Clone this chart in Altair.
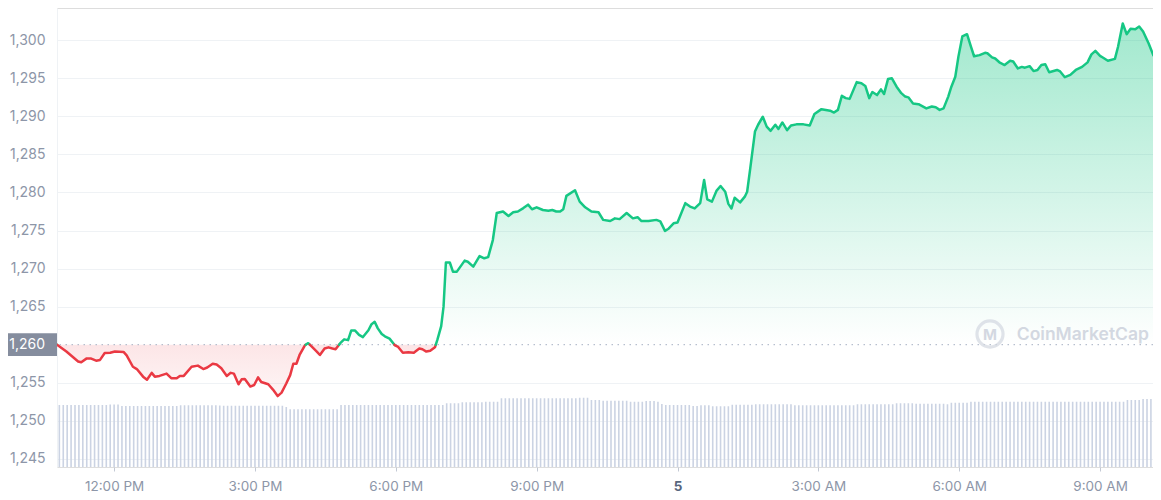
import altair as alt
import pandas as pd

BASE = 1260.0
YEAR, MONTH = 2023, 1
GREEN = "#16c784"
RED = "#ea3943"

# price series: "day HH:MM" and price
price_times = [
    "4 10:47", "4 10:59", "4 11:14", "4 11:18", "4 11:25", "4 11:30", "4 11:37", "4 11:42", "4 11:48", "4 11:55",
    "4 12:01", "4 12:12", "4 12:16", "4 12:24", "4 12:29", "4 12:37", "4 12:42", "4 12:48", "4 12:52", "4 12:58",
    "4 13:07", "4 13:13", "4 13:20", "4 13:24", "4 13:29", "4 13:39", "4 13:47", "4 13:54", "4 13:59", "4 14:06",
    "4 14:11", "4 14:17", "4 14:24", "4 14:29", "4 14:33", "4 14:39", "4 14:43", "4 14:47", "4 14:54", "4 14:59",
    "4 15:04", "4 15:08", "4 15:17", "4 15:23", "4 15:29", "4 15:34", "4 15:40", "4 15:45", "4 15:49", "4 15:53",
    "4 15:57", "4 16:04", "4 16:08", "4 16:12", "4 16:19", "4 16:23", "4 16:29", "4 16:34", "4 16:39", "4 16:43",
    "4 16:49", "4 16:54", "4 16:59", "4 17:03", "4 17:08", "4 17:13", "4 17:18", "4 17:25", "4 17:29", "4 17:33",
    "4 17:37", "4 17:42", "4 17:46", "4 17:52", "4 17:59", "4 18:03", "4 18:09", "4 18:16", "4 18:23", "4 18:30",
    "4 18:34", "4 18:39", "4 18:44", "4 18:50", "4 18:53", "4 18:58", "4 19:01", "4 19:04", "4 19:09", "4 19:13",
    "4 19:18", "4 19:28", "4 19:32", "4 19:39", "4 19:47", "4 19:53", "4 19:58", "4 20:04", "4 20:09", "4 20:17",
    "4 20:24", "4 20:30", "4 20:36", "4 20:43", "4 20:49", "4 20:54", "4 21:00", "4 21:08", "4 21:15", "4 21:20",
    "4 21:25", "4 21:30", "4 21:34", "4 21:38", "4 21:49", "4 21:55", "4 22:02", "4 22:10", "4 22:19", "4 22:25",
    "4 22:34", "4 22:40", "4 22:46", "4 22:55", "4 23:03", "4 23:09", "4 23:14", "4 23:23", "4 23:33", "4 23:38",
    "4 23:44", "4 23:48", "4 23:55", "5 00:00", "5 00:10", "5 00:16", "5 00:22", "5 00:29", "5 00:34", "5 00:38",
    "5 00:44", "5 00:50", "5 00:55", "5 01:01", "5 01:05", "5 01:09", "5 01:13", "5 01:20", "5 01:26", "5 01:29",
    "5 01:33", "5 01:39", "5 01:43", "5 01:49", "5 01:54", "5 01:59", "5 02:05", "5 02:09", "5 02:14", "5 02:20",
    "5 02:25", "5 02:32", "5 02:41", "5 02:49", "5 02:55", "5 03:04", "5 03:15", "5 03:20", "5 03:25", "5 03:30",
    "5 03:35", "5 03:40", "5 03:49", "5 03:55", "5 04:00", "5 04:05", "5 04:09", "5 04:15", "5 04:20", "5 04:24",
    "5 04:29", "5 04:34", "5 04:40", "5 04:46", "5 04:51", "5 04:55", "5 05:01", "5 05:08", "5 05:18", "5 05:25",
    "5 05:30", "5 05:35", "5 05:40", "5 05:46", "5 05:50", "5 05:55", "5 05:59", "5 06:04", "5 06:10", "5 06:15",
    "5 06:19", "5 06:26", "5 06:33", "5 06:36", "5 06:42", "5 06:46", "5 06:52", "5 06:58", "5 07:05", "5 07:09",
    "5 07:15", "5 07:20", "5 07:24", "5 07:30", "5 07:35", "5 07:40", "5 07:45", "5 07:50", "5 07:55", "5 08:05",
    "5 08:09", "5 08:15", "5 08:22", "5 08:29", "5 08:37", "5 08:44", "5 08:49", "5 08:54", "5 09:00", "5 09:04",
    "5 09:10", "5 09:19", "5 09:23", "5 09:29", "5 09:34", "5 09:39", "5 09:45", "5 09:50", "5 09:55", "5 10:02",
    "5 10:08", "5 10:12", "5 10:17",
]
prices = [
    1260.0, 1259.1, 1257.8, 1257.7, 1258.2, 1258.2, 1257.9, 1258.0, 1258.9, 1258.95,
    1259.1, 1259.05, 1258.6, 1257.1, 1256.8, 1255.8, 1255.4, 1256.3, 1255.8, 1255.9,
    1256.2, 1255.6, 1255.6, 1255.9, 1255.9, 1257.1, 1257.25, 1256.8, 1257.0, 1257.5,
    1257.4, 1256.9, 1255.9, 1256.3, 1256.2, 1254.8, 1255.45, 1255.5, 1254.5, 1254.7,
    1255.7, 1255.1, 1254.8, 1254.1, 1253.25, 1253.7, 1254.9, 1256.0, 1257.5, 1257.5,
    1258.65, 1259.95, 1260.2, 1259.8, 1259.1, 1258.65, 1259.5, 1259.65, 1259.5, 1259.4,
    1260.2, 1260.7, 1260.6, 1261.85, 1261.85, 1261.3, 1261.0, 1261.9, 1262.7, 1263.0,
    1262.15, 1261.4, 1261.1, 1260.8, 1259.9, 1259.7, 1258.95, 1259.0, 1258.95, 1259.5,
    1259.4, 1259.1, 1259.2, 1259.65, 1260.6, 1262.45, 1265.0, 1270.8, 1270.8, 1269.6,
    1269.6, 1271.05, 1270.9, 1270.25, 1271.65, 1271.35, 1271.5, 1273.75, 1277.3, 1277.5,
    1276.9, 1277.4, 1277.5, 1277.95, 1278.4, 1277.8, 1278.05, 1277.7, 1277.6, 1277.7,
    1277.5, 1277.5, 1277.8, 1279.55, 1280.3, 1278.8, 1278.05, 1277.5, 1277.4, 1276.4,
    1276.25, 1276.6, 1276.5, 1277.3, 1276.6, 1276.75, 1276.25, 1276.25, 1276.4, 1276.2,
    1274.95, 1275.2, 1275.95, 1276.05, 1278.6, 1278.15, 1277.9, 1278.6, 1281.65, 1279.1,
    1278.8, 1280.25, 1280.85, 1280.1, 1278.5, 1277.9, 1279.3, 1278.7, 1279.45, 1280.1,
    1283.2, 1288.0, 1288.9, 1289.95, 1288.65, 1288.1, 1288.9, 1288.35, 1289.2, 1288.2,
    1288.8, 1288.95, 1288.95, 1288.8, 1290.3, 1290.95, 1290.75, 1290.5, 1290.85, 1292.7,
    1292.4, 1292.3, 1294.5, 1294.35, 1294.0, 1292.4, 1293.2, 1292.8, 1293.55, 1292.95,
    1294.9, 1295.0, 1293.9, 1293.05, 1292.6, 1292.5, 1291.7, 1291.6, 1291.05, 1291.3,
    1291.2, 1290.85, 1291.05, 1292.6, 1293.9, 1295.2, 1297.85, 1300.5, 1300.8, 1299.15,
    1297.9, 1298.05, 1298.35, 1298.3, 1297.75, 1297.6, 1297.05, 1296.75, 1297.3, 1297.2,
    1296.3, 1296.5, 1296.4, 1296.6, 1295.95, 1296.1, 1296.75, 1296.85, 1295.8, 1296.1,
    1295.9, 1295.15, 1295.45, 1296.1, 1296.5, 1297.1, 1298.15, 1298.6, 1297.95, 1297.7,
    1297.3, 1297.55, 1299.15, 1302.2, 1300.8, 1301.5, 1301.45, 1301.8, 1301.15, 1299.6,
    1298.05, 1297.6, 1298.5,
]

# volume bars, one every 5 minutes starting 4 10:50 (billions, rows by hour)
volume_start = "2023-01-04 10:50"
volumes = [
    12.4, 12.4,
    12.4, 12.4, 12.4, 12.4, 12.4, 12.4, 12.4, 12.4, 12.4, 12.4, 12.4, 12.5,
    12.5, 12.5, 12.2, 12.2, 12.2, 12.2, 12.2, 12.2, 12.2, 12.2, 12.2, 12.2,
    12.2, 12.2, 12.2, 12.2, 12.2, 12.35, 12.35, 12.35, 12.35, 12.35, 12.35, 12.35,
    12.35, 12.35, 12.35, 12.3, 12.25, 12.25, 12.25, 12.25, 12.25, 12.25, 12.25, 12.25,
    12.25, 12.25, 12.25, 12.25, 12.25, 12.25, 12.25, 12.25, 12.0, 11.55, 11.55, 11.55,
    11.55, 11.55, 11.55, 11.55, 11.55, 11.55, 11.55, 11.55, 11.55, 11.55, 12.4, 12.4,
    12.4, 12.4, 12.4, 12.4, 12.4, 12.4, 12.4, 12.4, 12.4, 12.4, 12.4, 12.4,
    12.4, 12.4, 12.4, 12.4, 12.4, 12.4, 12.4, 12.4, 12.4, 12.4, 12.4, 12.4,
    12.4, 12.75, 12.75, 12.75, 12.75, 12.95, 12.95, 12.95, 12.95, 12.95, 12.95, 13.05,
    13.05, 13.05, 13.05, 13.75, 13.75, 13.75, 13.75, 13.75, 13.75, 13.75, 13.75, 13.75,
    13.75, 13.75, 13.75, 13.75, 13.75, 13.75, 13.75, 13.75, 13.75, 13.75, 13.75, 13.85,
    13.85, 13.85, 13.4, 13.4, 13.4, 13.25, 13.25, 13.25, 13.25, 13.25, 13.25, 13.25,
    13.05, 13.05, 13.05, 13.05, 13.2, 13.2, 13.2, 13.05, 12.6, 12.4, 12.4, 12.4,
    12.4, 12.4, 12.4, 12.4, 12.2, 12.2, 12.35, 12.35, 12.35, 12.15, 12.15, 12.15,
    12.15, 12.15, 12.45, 12.45, 12.45, 12.45, 12.45, 12.45, 12.55, 12.55, 12.55, 12.55,
    12.55, 12.55, 12.55, 12.55, 12.55, 12.55, 12.35, 12.35, 12.35, 12.35, 12.35, 12.35,
    12.35, 12.35, 12.35, 12.35, 12.35, 12.35, 12.35, 12.35, 12.35, 12.35, 12.55, 12.55,
    12.55, 12.55, 12.55, 12.55, 12.55, 12.55, 12.55, 12.55, 12.75, 12.75, 12.75, 12.75,
    12.75, 12.65, 12.65, 12.65, 12.65, 12.65, 12.65, 12.65, 12.65, 12.55, 12.85, 12.85,
    12.85, 12.85, 12.85, 13.05, 13.05, 13.05, 13.05, 13.05, 13.05, 13.05, 13.05, 13.05,
    13.05, 13.05, 13.05, 13.05, 13.05, 13.05, 13.05, 13.05, 13.05, 13.05, 13.05, 13.05,
    13.05, 13.05, 13.05, 13.05, 13.05, 13.05, 13.05, 13.05, 13.05, 13.05, 13.05, 13.05,
    13.05, 13.05, 13.05, 13.05, 13.05, 13.05, 13.05, 13.4, 13.4, 13.4, 13.4, 13.6,
    13.6, 13.6, 13.6, 13.6,
]

y_ticks = [1245, 1250, 1255, 1265, 1270, 1275, 1280, 1285, 1290, 1295, 1300]
x_tick_hours = [(4, 12), (4, 15), (4, 18), (4, 21), (5, 0), (5, 3), (5, 6), (5, 9)]


def ts(s):
    d, hm = s.split()
    return pd.Timestamp(f"{YEAR}-{MONTH:02d}-{int(d):02d} {hm}")


# split the price line at crossings of the base price
rows = []
seg = 0
t_prev, p_prev = ts(price_times[0]), prices[0]
side = "up" if p_prev >= BASE else "down"
rows.append((t_prev, p_prev, seg, side))
for s, p in zip(price_times[1:], prices[1:]):
    t = ts(s)
    new_side = "up" if p >= BASE else "down"
    if new_side != side:
        frac = (BASE - p_prev) / (p - p_prev)
        tc = (t_prev + (t - t_prev) * frac).round("s")
        rows.append((tc, BASE, seg, side))
        seg += 1
        rows.append((tc, BASE, seg, new_side))
        side = new_side
    rows.append((t, p, seg, side))
    t_prev, p_prev = t, p

line_df = pd.DataFrame(rows, columns=["time", "price", "seg", "side"])
line_df["above"] = line_df["price"].clip(lower=BASE)
line_df["below"] = line_df["price"].clip(upper=BASE)

vol_df = pd.DataFrame({
    "time": pd.date_range(volume_start, periods=len(volumes), freq="5min"),
    "volume": volumes,
})
one = pd.DataFrame({"k": [0]})

FONT = "Inter"
LABEL_GREY = "#8d96a8"

# the visible window: the series runs on past the right edge and is cut there
xscale = alt.Scale(
    domain=[alt.DateTime(year=YEAR, month=MONTH, date=4, hours=10, minutes=47),
            alt.DateTime(year=YEAR, month=MONTH, date=5, hours=10, minutes=7, seconds=40)],
    nice=False, padding=0,
)
xaxis = alt.Axis(
    values=[alt.DateTime(year=YEAR, month=MONTH, date=d, hours=h) for d, h in x_tick_hours],
    labelExpr="hours(datum.value) == 0 ? timeFormat(datum.value, '%-d') : timeFormat(datum.value, '%-I:%M %p')",
    title=None, grid=False, domain=False, ticks=True, tickSize=4, tickColor="#c3c9d4",
    labelFont=FONT, labelFontSize=13.5, labelPadding=8,
    labelColor={"condition": {"test": "hours(datum.value) == 0", "value": "#58667e"}, "value": LABEL_GREY},
    labelFontWeight={"condition": {"test": "hours(datum.value) == 0", "value": "bold"}, "value": "normal"},
)
xenc = alt.X("time:T", scale=xscale, axis=xaxis)

yscale = alt.Scale(domain=[1243.93, 1304.24], nice=False, zero=False, padding=0)
yaxis = alt.Axis(
    values=y_ticks, format=",.0f", title=None, grid=True, gridColor="#eff2f5", gridWidth=1,
    domain=True, domainColor="#eff2f5", ticks=False, labelPadding=12,
    labelFont=FONT, labelFontSize=14, labelColor=LABEL_GREY,
)

green_grad = alt.Gradient(
    gradient="linear", x1=0, x2=0, y1=0, y2=1,
    stops=[alt.GradientStop(color="rgba(22,199,132,0.40)", offset=0),
           alt.GradientStop(color="rgba(22,199,132,0.0)", offset=1)],
)
red_grad = alt.Gradient(
    gradient="linear", x1=0, x2=0, y1=0, y2=1,
    stops=[alt.GradientStop(color="rgba(234,57,67,0.13)", offset=0),
           alt.GradientStop(color="rgba(234,57,67,0.05)", offset=1)],
)

volume = alt.Chart(vol_df).mark_bar(width=1.6, color="#cbd3e3", clip=True).encode(
    x=xenc,
    y=alt.Y("volume:Q", scale=alt.Scale(domain=[0, 91.8], nice=False, padding=0), axis=None),
)

green_area = alt.Chart(line_df).mark_area(fill=green_grad, strokeWidth=0, clip=True).encode(
    x=xenc, y=alt.Y("above:Q", scale=yscale, axis=yaxis), y2=alt.Y2(datum=BASE),
)
red_area = alt.Chart(line_df).mark_area(fill=red_grad, strokeWidth=0, clip=True).encode(
    x=xenc, y=alt.Y("below:Q", scale=yscale, axis=yaxis), y2=alt.Y2(datum=BASE),
)
base_rule = alt.Chart(one).mark_rule(color="#a6b0c3", strokeWidth=1, strokeDash=[1.5, 4.5]).encode(
    y=alt.Y(datum=BASE, type="quantitative", scale=yscale, axis=yaxis),
)
price_line = alt.Chart(line_df).mark_line(strokeWidth=2.5, strokeJoin="round", strokeCap="round",
                                          clip=True).encode(
    x=xenc,
    y=alt.Y("price:Q", scale=yscale, axis=yaxis),
    color=alt.Color("side:N", scale=alt.Scale(domain=["up", "down"], range=[GREEN, RED]), legend=None),
    detail="seg:N",
)
base_box = alt.Chart(one).mark_rect(color="#858d9e").encode(
    x=alt.value(-49), x2=alt.value(0),
    y=alt.Y(datum=BASE + 1.5, type="quantitative", scale=yscale, axis=yaxis),
    y2=alt.Y2(datum=BASE - 1.5),
)
base_text = alt.Chart(one).mark_text(align="right", baseline="middle", color="white",
                                      font=FONT, fontSize=14).encode(
    x=alt.value(-12),
    y=alt.Y(datum=BASE, type="quantitative", scale=yscale, axis=yaxis),
    text=alt.value("1,260"),
)
wm_circle = alt.Chart(one).mark_point(shape="circle", size=680, strokeWidth=3.2,
                                      color="#d3d8e1", filled=False).encode(
    x=alt.value(933), y=alt.value(326),
)
wm_m = alt.Chart(one).mark_text(align="center", baseline="middle", color="#d3d8e1",
                                font=FONT, fontSize=15, fontWeight="bold").encode(
    x=alt.value(933), y=alt.value(327), text=alt.value("M"),
)
wm_text = alt.Chart(one).mark_text(align="right", baseline="middle", color="#d3d8e1",
                                   font=FONT, fontSize=17.5, fontWeight=600).encode(
    x=alt.value(1092), y=alt.value(327), text=alt.value("CoinMarketCap"),
)

price_layer = alt.layer(green_area, red_area, base_rule, price_line, base_box, base_text,
                        wm_circle, wm_m, wm_text)

chart = alt.layer(volume, price_layer).resolve_scale(y="independent").properties(
    width=1096, height=459,
    padding={"left": 49, "top": 0, "right": 0, "bottom": 25},
    autosize=alt.AutoSizeParams(type="none"),
).configure_view(strokeWidth=0).configure(background="white")

chart.save("out.html", embed_options={"renderer": "svg", "actions": False})
